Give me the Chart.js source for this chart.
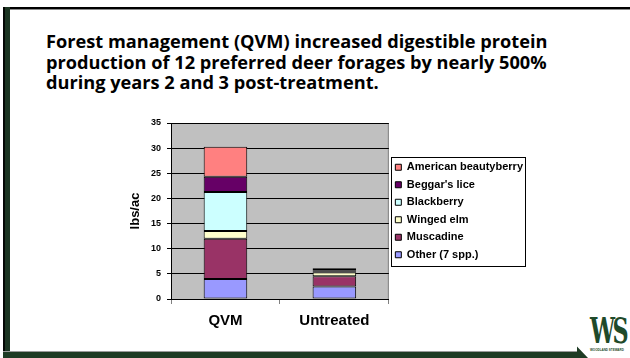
<!DOCTYPE html>
<html>
<head>
<meta charset="utf-8">
<script src="https://cdn.jsdelivr.net/npm/chart.js@4/dist/chart.umd.min.js"></script>
<style>
  html, body { margin: 0; padding: 0; background: #fff; }
  #slide { position: relative; width: 630px; height: 358px; overflow: hidden; background: #fff; }
  #topRule { position: absolute; left: 3px; top: 7px; width: 627px; height: 2px; background: #000; border-bottom: 1px solid #8a8a8a; }
  #leftRule { position: absolute; left: 3px; top: 7px; width: 7px; height: 351px;
              background: linear-gradient(to right, #050805 0, #050805 2px, #1c3522 2px, #1c3522 7px); }
  #frameSvg { position: absolute; left: 0; top: 0; }
  #title { position: absolute; left: 46px; top: 31px; width: 580px; margin: 0;
           font-family: "Open Sans", Lato, sans-serif; font-weight: 700; font-size: 18.2px;
           line-height: 20.7px; color: #000; white-space: nowrap; }
  #chartBox { position: absolute; left: 100px; top: 110px; width: 440px; height: 232px; }
  #logo { position: absolute; left: 590px; top: 312px; width: 40px; color: #1f4a2a; }
  #logo .mark { font-family: "DejaVu Serif", serif; font-weight: 700; font-size: 36px; line-height: 36px;
                letter-spacing: -4px; transform: scaleX(0.62); transform-origin: 0 0; white-space: nowrap; }
  #logo .sub { font-family: "Liberation Sans", Arial, sans-serif; font-weight: 700; font-size: 3px; line-height: 4px; white-space: nowrap; }
</style>
</head>
<body>
<div id="slide">
  <div id="topRule"></div>
  <div id="leftRule"></div>
  <svg id="frameSvg" width="630" height="358">
    <line x1="3" y1="351.5" x2="577" y2="351.5" stroke="#9a9a9a" stroke-width="1"/>
    <polygon points="3,352 577,352 577,346.5 588,358 3,358" fill="#1e3b24"/>
  </svg>
  <p id="title">Forest management (QVM) increased digestible protein<br>production of 12 preferred deer forages by nearly 500%<br>during years 2 and 3 post-treatment.</p>
  <div id="chartBox"><canvas id="c"></canvas></div>
  <div id="logo"><div class="mark">WS</div><div class="sub">WOODLAND STEWARD</div></div>
</div>
<script>
// Digestible protein (lbs/ac) by forage group, stacked bottom to top
const categories = ['QVM', 'Untreated'];
const other      = [4.0, 2.5];
const muscadine  = [8.0, 2.0];
const wingedElm  = [1.5, 0.8];
const blackberry = [7.8, 0.1];
const beggarLice = [3.0, 0.3];
const beautyberry = [6.0, 0.4];
const yTicks = [0, 5, 10, 15, 20, 25, 30, 35];

const FONT = "'Liberation Sans', Arial, sans-serif";

const series = [
  { label: 'Other (7 spp.)',       data: other,       color: '#9999ff' },
  { label: 'Muscadine',            data: muscadine,   color: '#993366' },
  { label: 'Winged elm',           data: wingedElm,   color: '#ffffcc' },
  { label: 'Blackberry',           data: blackberry,  color: '#ccffff' },
  { label: "Beggar's lice",        data: beggarLice,  color: '#660066' },
  { label: 'American beautyberry', data: beautyberry, color: '#ff8080' }
];

// grey plot background behind the gridlines
const plotBackground = {
  id: 'plotBackground',
  beforeDraw(chart) {
    const { ctx, chartArea: a } = chart;
    ctx.save();
    ctx.fillStyle = '#c0c0c0';
    ctx.fillRect(a.left, a.top, a.right - a.left, a.bottom - a.top);
    ctx.strokeStyle = '#808080';
    ctx.lineWidth = 1;
    ctx.beginPath();
    ctx.moveTo(a.right - 0.5, a.top);
    ctx.lineTo(a.right - 0.5, a.bottom);
    ctx.stroke();
    ctx.restore();
  }
};

// thin black frame around the legend entries
const legendFrame = {
  id: 'legendFrame',
  afterDraw(chart) {
    const lg = chart.legend;
    if (!lg || !lg.legendHitBoxes || !lg.legendHitBoxes.length) return;
    const hb = lg.legendHitBoxes;
    let l = Infinity, r = -Infinity, t = Infinity, b = -Infinity;
    hb.forEach(h => {
      l = Math.min(l, h.left); r = Math.max(r, h.left + h.width);
      t = Math.min(t, h.top); b = Math.max(b, h.top + h.height);
    });
    const ctx = chart.ctx;
    ctx.save();
    ctx.strokeStyle = '#000';
    ctx.lineWidth = 1;
    ctx.strokeRect(Math.round(l - 4) + 0.5, Math.round(t - 5) + 0.5,
                   Math.round(r - l + 6), Math.round(b - t + 10));
    ctx.restore();
  }
};

new Chart(document.getElementById('c'), {
  type: 'bar',
  data: {
    labels: categories,
    datasets: series.map(s => ({
      label: s.label,
      data: s.data,
      backgroundColor: s.color,
      borderColor: '#000',
      borderWidth: 1,
      borderSkipped: false,
      categoryPercentage: 1.0,
      barPercentage: 0.4
    }))
  },
  options: {
    responsive: true,
    maintainAspectRatio: false,
    animation: false,
    layout: { padding: { left: 26, right: 7, top: 13, bottom: 4 } },
    plugins: {
      tooltip: { enabled: false },
      legend: {
        position: 'right',
        fullSize: false,
        reverse: true,
        maxWidth: 170,
        labels: {
          boxWidth: 6,
          boxHeight: 6,
          padding: 6.5,
          color: '#000',
          font: { family: FONT, size: 11, weight: 'bold' }
        }
      }
    },
    scales: {
      x: {
        stacked: true,
        grid: { display: true, drawOnChartArea: false, drawTicks: true, tickLength: 5, color: '#808080', offset: true },
        border: { display: true, color: '#000', width: 1 },
        ticks: { color: '#000', padding: 8, font: { family: FONT, size: 15, weight: 'bold' } }
      },
      y: {
        stacked: true,
        min: 0,
        max: 35,
        afterBuildTicks(scale) { scale.ticks = yTicks.map(v => ({ value: v })); },
        afterFit(scale) { scale.width = 45; },
        grid: { color: '#000', lineWidth: 1, drawTicks: true, tickLength: 4, tickColor: '#000' },
        border: { display: true, color: '#000', width: 1 },
        ticks: { color: '#000', padding: 6, font: { family: FONT, size: 9, weight: 'bold' } },
        title: { display: true, text: 'lbs/ac', color: '#000', padding: { top: 2, bottom: 2 },
                 font: { family: FONT, size: 13, weight: 'bold' } }
      }
    }
  },
  plugins: [plotBackground, legendFrame]
});
</script>
</body>
</html>
